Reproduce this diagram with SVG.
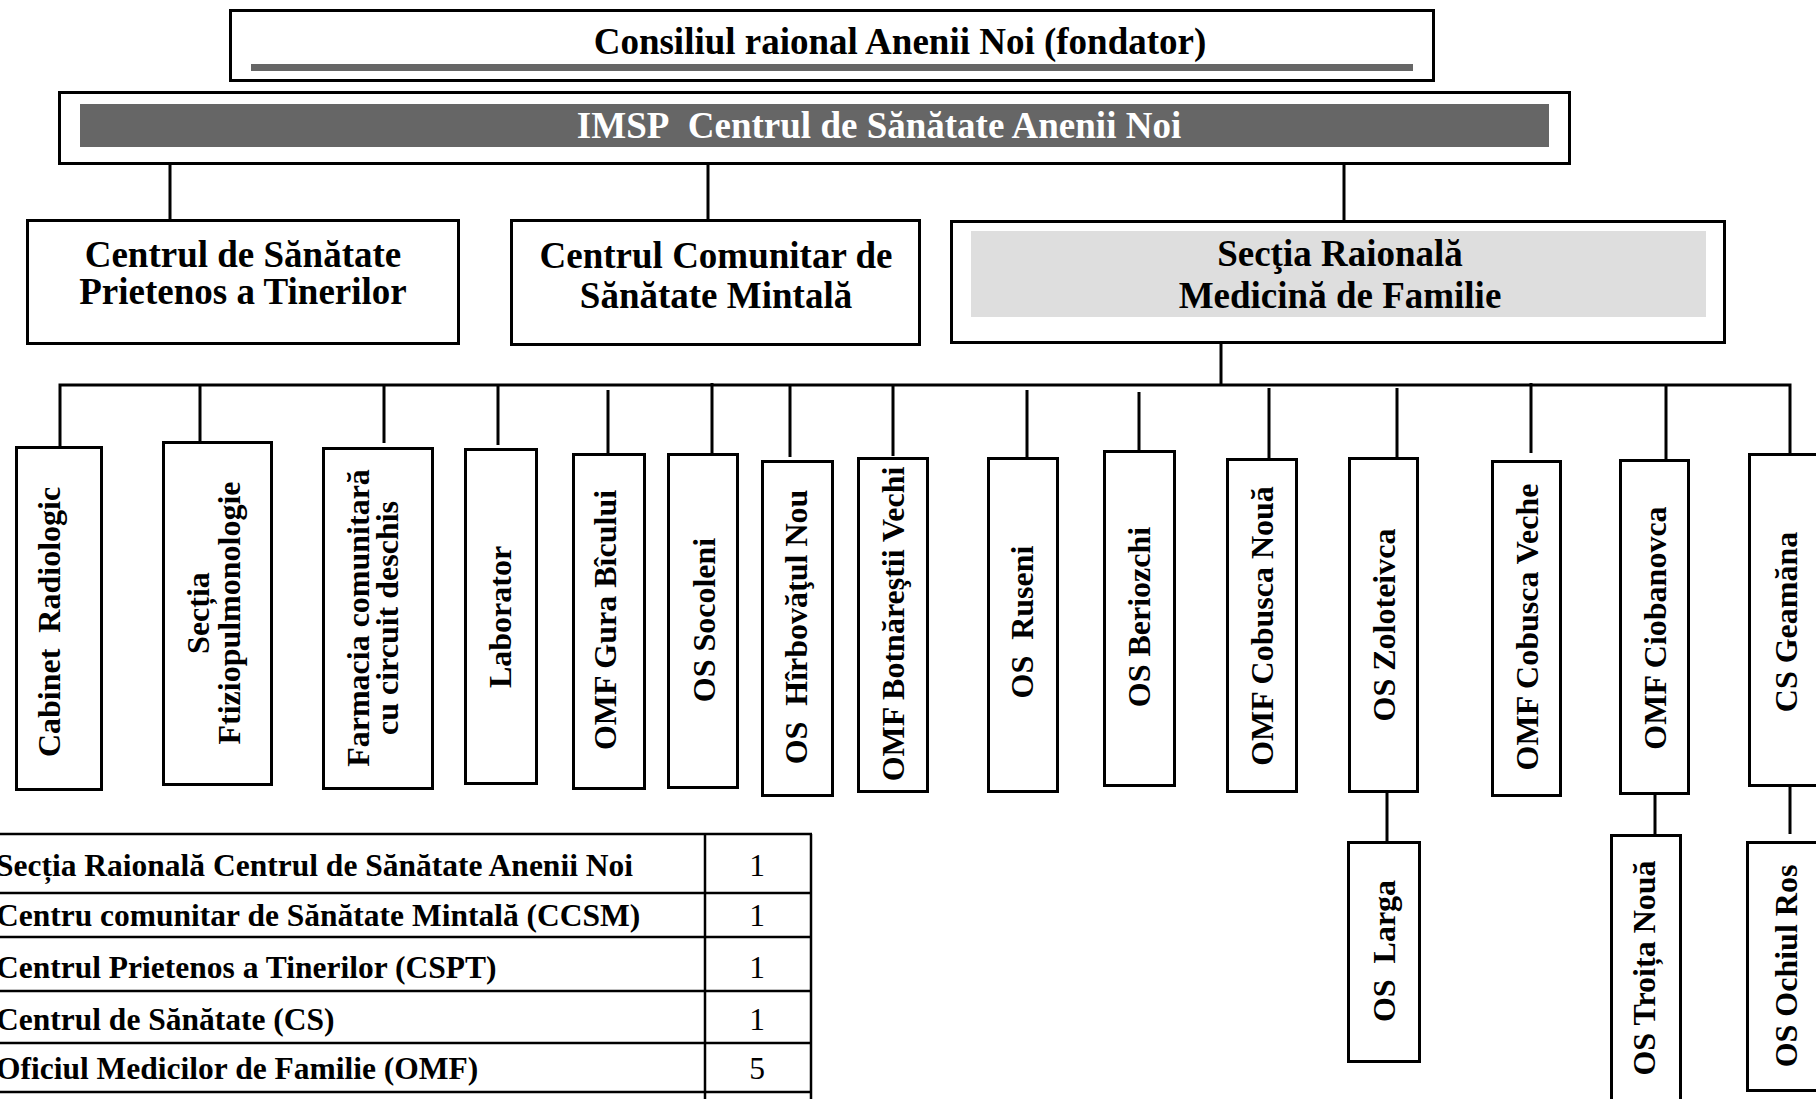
<svg xmlns="http://www.w3.org/2000/svg" width="1816" height="1099" viewBox="0 0 1816 1099">
<style>
text{font-family:"Liberation Serif","Times New Roman",serif;font-weight:bold;fill:#000}
.box{fill:#fff;stroke:#000;stroke-width:3}
.h{font-size:37px;text-anchor:middle}
.v{font-size:32px;text-anchor:middle}
.t{font-size:31.5px}
.n{font-size:31.5px;font-weight:normal;text-anchor:middle}
.w{fill:#fff}
#connectors path{stroke:#000;stroke-width:3;fill:none}
#table line{stroke:#000;stroke-width:2.5}
</style>
<rect width="1816" height="1099" fill="#fff"/>

<g id="connectors">
<path d="M170 165V220M708 165V220M1344 165V221"/>
<path d="M1221 333V386"/>
<path d="M60 447V385H1790V454"/>
<path d="M200 385V442M384 385V443M498 385V445M608 390V462M712 383V453M790 385V457M893 385V456M1027 390V462M1139 392V450M1269 388V460M1397 388V460M1531 383V453M1666 385V459"/>
<path d="M1387 787V842M1655 793V840M1790 786V834"/>
</g>

<g id="consiliul">
<rect class="box" x="230.5" y="10.5" width="1203" height="70"/>
<rect x="251" y="64" width="1162" height="7" fill="#666"/>
<text class="h" x="900" y="54">Consiliul raional Anenii Noi (fondator)</text>
</g>

<g id="imsp">
<rect class="box" x="59.5" y="92.5" width="1510" height="71"/>
<rect x="80" y="104" width="1469" height="43" fill="#666"/>
<text class="h w" x="879" y="138">IMSP&#160; Centrul de Sănătate Anenii Noi</text>
</g>

<g id="cspt">
<rect class="box" x="27.5" y="220.5" width="431" height="123"/>
<text class="h" x="243" y="267">Centrul de Sănătate</text>
<text class="h" x="243" y="304">Prietenos a Tinerilor</text>
</g>

<g id="ccsm">
<rect class="box" x="511.5" y="220.5" width="408" height="124"/>
<text class="h" x="716" y="268">Centrul Comunitar de</text>
<text class="h" x="716" y="308">Sănătate Mintală</text>
</g>

<g id="srmf">
<rect class="box" x="951.5" y="221.5" width="773" height="121"/>
<rect x="971" y="231" width="735" height="86" fill="#dedede"/>
<text class="h" x="1340" y="266">Secţia Raională</text>
<text class="h" x="1340" y="308">Medicină de Familie</text>
</g>

<g id="cabinet-radiologic">
<rect class="box" x="16.5" y="447.5" width="85" height="342"/>
<text class="v" transform="translate(60 622) rotate(-90)">Cabinet&#160; Radiologic</text>
</g>
<g id="sectia-ftiziopulmonologie">
<rect class="box" x="163.5" y="442.5" width="108" height="342"/>
<text class="v" transform="translate(209 613) rotate(-90)">Secția</text>
<text class="v" transform="translate(240 613) rotate(-90)">Ftiziopulmonologie</text>
</g>
<g id="farmacia">
<rect class="box" x="323.5" y="448.5" width="109" height="340"/>
<text class="v" transform="translate(369 618) rotate(-90)">Farmacia comunitară</text>
<text class="v" transform="translate(398 618) rotate(-90)">cu circuit deschis</text>
</g>
<g id="laborator">
<rect class="box" x="465.5" y="449.5" width="71" height="334"/>
<text class="v" transform="translate(511 617) rotate(-90)">Laborator</text>
</g>
<g id="omf-gura-bicului">
<rect class="box" x="573.5" y="454.5" width="71" height="334"/>
<text class="v" transform="translate(616 620) rotate(-90)">OMF Gura Bîcului</text>
</g>
<g id="os-socoleni">
<rect class="box" x="668.5" y="454.5" width="69" height="333"/>
<text class="v" transform="translate(715 620) rotate(-90)">OS Socoleni</text>
</g>
<g id="os-hirbovatul-nou">
<rect class="box" x="762.5" y="461.5" width="70" height="334"/>
<text class="v" transform="translate(807 627) rotate(-90)">OS&#160; Hîrbovăţul Nou</text>
</g>
<g id="omf-botnarestii-vechi">
<rect class="box" x="858.5" y="458.5" width="69" height="333"/>
<text class="v" transform="translate(904 624) rotate(-90)">OMF Botnăreştii Vechi</text>
</g>
<g id="os-ruseni">
<rect class="box" x="988.5" y="458.5" width="69" height="333"/>
<text class="v" transform="translate(1033 622) rotate(-90)">OS&#160; Ruseni</text>
</g>
<g id="os-beriozchi">
<rect class="box" x="1104.5" y="451.5" width="70" height="334"/>
<text class="v" transform="translate(1150 617) rotate(-90)">OS Beriozchi</text>
</g>
<g id="omf-cobusca-noua">
<rect class="box" x="1227.5" y="459.5" width="69" height="332"/>
<text class="v" transform="translate(1273 626) rotate(-90)">OMF Cobusca Nouă</text>
</g>
<g id="os-zoloteivca">
<rect class="box" x="1349.5" y="458.5" width="68" height="333"/>
<text class="v" transform="translate(1395 625) rotate(-90)">OS Zoloteivca</text>
</g>
<g id="omf-cobusca-veche">
<rect class="box" x="1492.5" y="461.5" width="68" height="334"/>
<text class="v" transform="translate(1538 627) rotate(-90)">OMF Cobusca Veche</text>
</g>
<g id="omf-ciobanovca">
<rect class="box" x="1620.5" y="460.5" width="68" height="333"/>
<text class="v" transform="translate(1666 628) rotate(-90)">OMF Ciobanovca</text>
</g>
<g id="cs-geamana">
<rect class="box" x="1749.5" y="454.5" width="75" height="331"/>
<text class="v" transform="translate(1797 622) rotate(-90)">CS Geamăna</text>
</g>
<g id="os-larga">
<rect class="box" x="1348.5" y="842.5" width="71" height="219"/>
<text class="v" transform="translate(1395 951) rotate(-90)">OS&#160; Larga</text>
</g>
<g id="os-troita-noua">
<rect class="box" x="1611.5" y="835.5" width="69" height="280"/>
<text class="v" transform="translate(1655 968) rotate(-90)">OS Troița Nouă</text>
</g>
<g id="os-ochiul-ros">
<rect class="box" x="1747.5" y="842.5" width="75" height="248"/>
<text class="v" transform="translate(1797 966) rotate(-90)">OS Ochiul Ros</text>
</g>

<g id="table">
<line x1="0" y1="834" x2="812" y2="834"/>
<line x1="0" y1="893" x2="812" y2="893"/>
<line x1="0" y1="937" x2="812" y2="937"/>
<line x1="0" y1="991" x2="812" y2="991"/>
<line x1="0" y1="1043" x2="812" y2="1043"/>
<line x1="0" y1="1092" x2="812" y2="1092"/>
<line x1="705" y1="834" x2="705" y2="1099"/>
<line x1="811" y1="834" x2="811" y2="1099"/>
<text class="t" x="-4" y="876">Secția Raională Centrul de Sănătate Anenii Noi</text>
<text class="t" x="-4" y="926">Centru comunitar de Sănătate Mintală (CCSM)</text>
<text class="t" x="-4" y="978">Centrul Prietenos a Tinerilor (CSPT)</text>
<text class="t" x="-4" y="1030">Centrul de Sănătate (CS)</text>
<text class="t" x="-4" y="1079">Oficiul Medicilor de Familie (OMF)</text>
<text class="n" x="757" y="876">1</text>
<text class="n" x="757" y="926">1</text>
<text class="n" x="757" y="978">1</text>
<text class="n" x="757" y="1030">1</text>
<text class="n" x="757" y="1079">5</text>
</g>
</svg>
